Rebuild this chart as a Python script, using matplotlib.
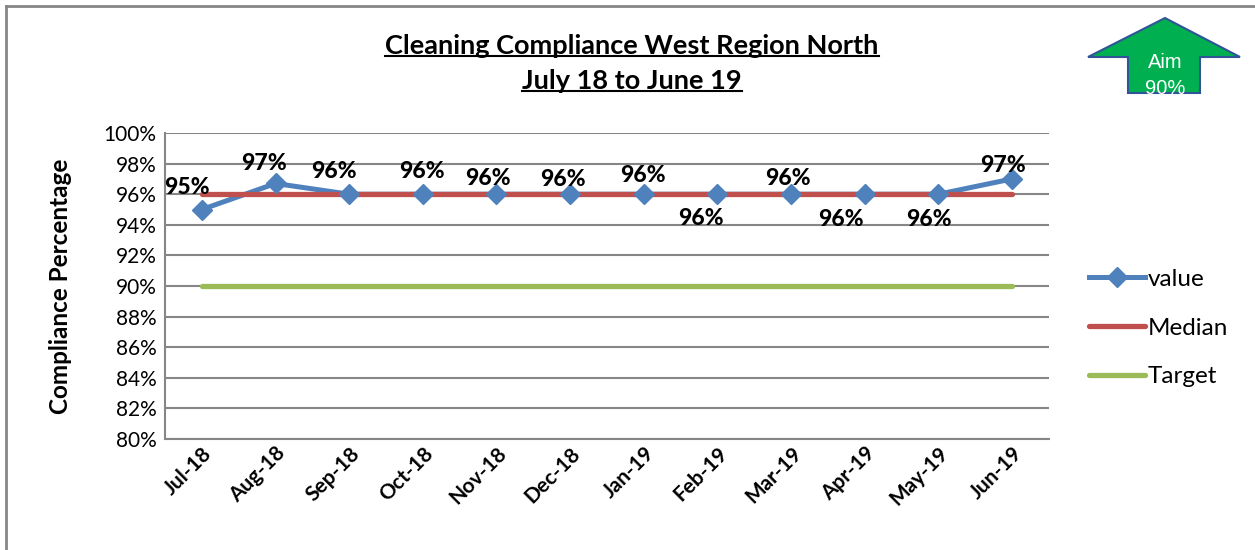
import matplotlib
matplotlib.use("Agg")
import matplotlib.pyplot as plt
from matplotlib.patches import Polygon
from matplotlib.lines import Line2D

months = ["Jul-18", "Aug-18", "Sep-18", "Oct-18", "Nov-18", "Dec-18",
          "Jan-19", "Feb-19", "Mar-19", "Apr-19", "May-19", "Jun-19"]
values = [95.0, 96.7, 96.0, 96.0, 96.0, 96.0, 96.0, 96.0, 96.0, 96.0, 96.0, 97.0]
value_labels = ["95%", "97%", "96%", "96%", "96%", "96%", "96%", "96%", "96%", "96%", "96%", "97%"]
median = [96.0] * 12
target = [90.0] * 12
yticks = [80, 82, 84, 86, 88, 90, 92, 94, 96, 98, 100]

# label offsets in pixels (dx, dy) relative to each point
label_offsets = [(-15, 22), (-12, 20), (-15, 23), (-1, 23), (-9, 16), (-7, 15),
                 (-1, 19), (-17, -24), (-3, 16), (-24, -25), (-10, -25), (-9, 13)]

FONT = "Lato"
W, H = 1255, 550
fig = plt.figure(figsize=(W / 100, H / 100), dpi=100)

def fx(px):
    return px / W

def fy(py):
    return 1 - py / H

ax = fig.add_axes([fx(165), fy(439), fx(1049) - fx(165), fy(133) - fy(439)])
x = [i + 0.5 for i in range(len(months))]

grid_c = "#868686"
ax.plot(x, values, color="#4F81BD", lw=3.6, zorder=2)
ax.plot(x, median, color="#C0504D", lw=3.8, solid_capstyle="round", zorder=3)
ax.plot(x, target, color="#9BBB59", lw=3.8, solid_capstyle="round", zorder=3)
ax.plot(x, values, color="#4F81BD", lw=0, marker="D", markersize=10.5, zorder=4)

for xi, v, lab, (dx, dy) in zip(x, values, value_labels, label_offsets):
    ax.annotate(lab, (xi, v), xytext=(dx * 0.72, dy * 0.72), textcoords="offset points",
                ha="center", va="center", fontsize=16.5, fontweight=900,
                family=FONT, zorder=5)

ax.set_xlim(0, 12)
ax.set_ylim(80, 100)
ax.set_yticks(yticks)
ax.set_yticklabels([f"{t}%" for t in yticks], fontsize=15, family=FONT)
ax.set_xticks(x)
ax.set_xticklabels(months, rotation=45, ha="right", rotation_mode="anchor",
                   fontsize=15, fontweight="bold", family=FONT)
ax.tick_params(axis="both", length=0, pad=6)
ax.tick_params(axis="x", pad=3)
ax.grid(axis="y", color=grid_c, lw=1.5)
ax.set_axisbelow(True)
for s in ["top", "right"]:
    ax.spines[s].set_visible(False)
for s in ["left", "bottom"]:
    ax.spines[s].set_color(grid_c)
    ax.spines[s].set_linewidth(1.5)

fig.text(fx(60), fy(286), "Compliance Percentage", rotation=90, ha="center", va="center",
         fontsize=17.5, fontweight="bold", family=FONT)

# Legend
handles = [Line2D([], [], color="#4F81BD", lw=3.6, marker="D", markersize=10.5),
           Line2D([], [], color="#C0504D", lw=3.8, solid_capstyle="round"),
           Line2D([], [], color="#9BBB59", lw=3.8, solid_capstyle="round")]
leg = fig.legend(handles, ["value", "Median", "Target"], loc="center left",
                 bbox_to_anchor=(fx(1079), fy(328)), frameon=False,
                 prop={"family": FONT, "size": 17.5}, handlelength=2.3,
                 handletextpad=0.12, labelspacing=1.15, borderaxespad=0)

# Title
t1 = fig.text(fx(632), fy(46), "Cleaning Compliance West Region North", ha="center",
              va="center", fontsize=19.5, fontweight="bold", family=FONT)
t2 = fig.text(fx(632), fy(81), "July 18 to June 19", ha="center", va="center",
              fontsize=19.5, fontweight="bold", family=FONT)
fig.canvas.draw()
r = fig.canvas.get_renderer()
for t in (t1, t2):
    bb = t.get_window_extent(r)
    yline = bb.y0 + 2
    fig.add_artist(Line2D([bb.x0 / W, bb.x1 / W], [yline / H, yline / H],
                          transform=fig.transFigure, color="black", lw=1.5))

# Aim arrow
arrow_px = [(1165, 18), (1240, 57), (1200, 57), (1200, 93), (1128, 93), (1128, 57), (1088, 57)]
poly = Polygon([(fx(a), fy(b)) for a, b in arrow_px], closed=True, transform=fig.transFigure,
               facecolor="#00B050", edgecolor="#2F5597", lw=1.5, zorder=10)
fig.add_artist(poly)
fig.text(fx(1165), fy(63), "Aim", ha="center", va="center", color="white", fontsize=14.5,
         family="Liberation Sans", zorder=11)
t90 = fig.text(fx(1165), fy(88), "90%", ha="center", va="center", color="white", fontsize=14.5,
               family="Liberation Sans", zorder=11)
t90.set_clip_path(poly)

# outer border
fig.add_artist(Line2D([fx(6), fx(6)], [fy(6), 0], transform=fig.transFigure,
                      color=grid_c, lw=2))
fig.add_artist(Line2D([fx(6), 1], [fy(6), fy(6)], transform=fig.transFigure,
                      color=grid_c, lw=2))

fig.savefig("out.png", dpi=100)
